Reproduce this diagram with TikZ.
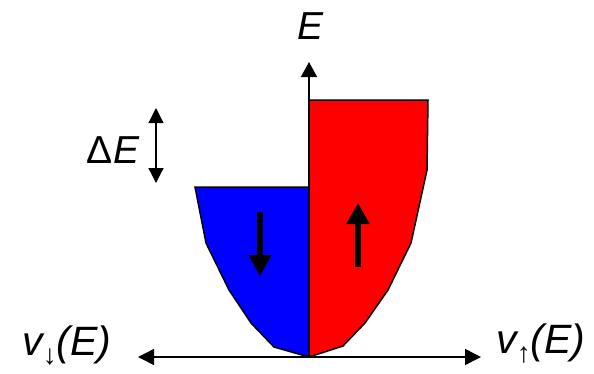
\documentclass[tikz,border=0pt]{standalone}
\usepackage{fontspec}
\setmainfont{Liberation Sans}
\usetikzlibrary{arrows.meta}

\begin{document}
\begin{tikzpicture}[x = 1pt, y = -1pt,
        axis/.style = {line width = 1.5pt, -{Triangle[length = 15pt, width = 16pt]}},
        spin/.style = {line width = 5.5pt, -{Triangle[length = 21pt, width = 22pt]}},
        lbl/.style = {inner sep = 0pt, font = \fontsize{39}{39}\selectfont\itshape}]
    \useasboundingbox (0, 0) rectangle (594, 373);
    % bands
    \filldraw[fill = red, draw = black, line width = 1.5pt] (309, 100) -- (428, 100) -- (427, 170) -- (411, 243) -- (388, 290) -- (365, 323) -- (343, 346) -- (309, 357) -- cycle;
    \filldraw[fill = blue, draw = black, line width = 1.5pt] (309, 187) -- (195, 187) -- (206, 243) -- (229, 290) -- (251, 323) -- (274, 347) -- (309, 357) -- cycle;
    % axes
    \coordinate (O) at (309, 357);
    \coordinate (Etop) at (309, 62);
    \coordinate (vL) at (138, 357);
    \coordinate (vR) at (481, 357);
    \draw[axis] (O) -- (Etop);
    \draw[axis, {Triangle[length = 16pt, width = 16pt]}-{Triangle[length = 16pt, width = 16pt]}] (vL) -- (vR);
    % splitting
    \coordinate (dEtop) at (156, 108);
    \coordinate (dEbot) at (156, 183);
    \draw[line width = 1.2pt, {Triangle[length = 15pt, width = 15pt]}-{Triangle[length = 15pt, width = 15pt]}] (dEtop) -- (dEbot);
    % spins
    \coordinate (dnA) at (260, 212);
    \coordinate (dnB) at (260, 276);
    \coordinate (upA) at (358, 267);
    \coordinate (upB) at (358, 203);
    \draw[spin] (dnA) -- (dnB);
    \draw[spin] (upA) -- (upB);
    % labels
    \node[lbl] (Elbl) at (311, 26) {E};
    \node[lbl] (dElbl) at (113, 150) {\upshape Δ\itshape E};
    \node[lbl, font = \fontsize{41}{41}\selectfont\itshape] (vdn) at (67, 346) {v\raisebox{-9pt}{\upshape\fontsize{28}{28}\selectfont ↓}(E)};
    \node[lbl, font = \fontsize{41}{41}\selectfont\itshape] (vup) at (541, 344) {v\raisebox{-9pt}{\upshape\fontsize{28}{28}\selectfont ↑}(E)};
\end{tikzpicture}
\end{document}
